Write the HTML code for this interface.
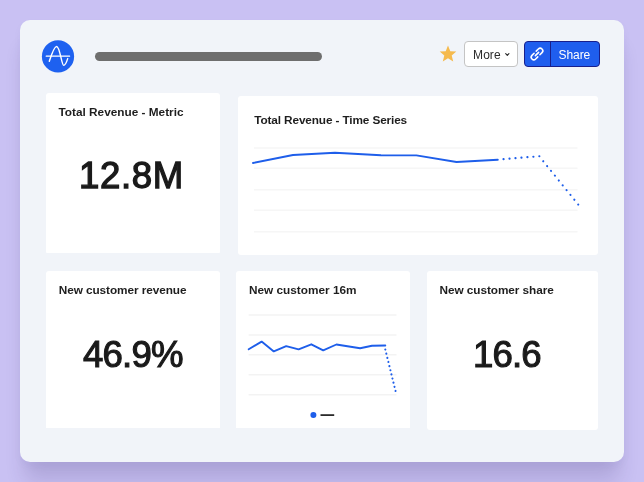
<!DOCTYPE html>
<html lang="en">
<head>
<meta charset="utf-8">
<title>Dashboard</title>
<style>
  html, body { margin: 0; padding: 0; }
  body {
    width: 644px; height: 482px; overflow: hidden; position: relative;
    background: #c9c1f3;
    font-family: "Liberation Sans", sans-serif;
    color: #1e1e1e;
  }
  .panel {
    position: absolute; left: 20px; top: 20px; width: 604px; height: 442px;
    background: #f1f4f9; border-radius: 10px;
    box-shadow: 0 23px 20px -5px rgba(40, 30, 90, 0.165), 0 4px 10px rgba(40,30,90,0.03);
  }
  .logo { position: absolute; left: 41px; top: 39px; width: 34px; height: 34px; }
  .titlebar {
    position: absolute; left: 95px; top: 51.6px; width: 227px; height: 9.2px;
    border-radius: 5px; background: #6e6e6e;
  }
  .star { position: absolute; left: 438.8px; top: 44.6px; width: 18px; height: 17px; }
  .btn-more {
    position: absolute; left: 464px; top: 41px; width: 54px; height: 26px;
    box-sizing: border-box; border: 1px solid #c4c4c4; border-radius: 4px;
    background: #fff; font-size: 12px; line-height: 24px; color: #2b2b2b;
  }
  .btn-more span { position: absolute; left: 8.1px; top: 0.6px; letter-spacing: 0.05px; }
  .btn-more svg { position: absolute; left: 39.7px; top: 11px; }
  .btn-share {
    position: absolute; left: 524px; top: 41px; width: 76px; height: 26px;
    box-sizing: border-box; border: 1px solid #181f8c; border-radius: 4px;
    background: #1f5eee; color: #fff; font-size: 12px; line-height: 24px;
  }
  .btn-share .div { position: absolute; left: 25.4px; top: 0; width: 1px; height: 24px; background: #181f8c; }
  .btn-share span { position: absolute; left: 33.6px; top: 0.6px; letter-spacing: -0.1px; }
  .btn-share svg { position: absolute; left: 4.2px; top: 4.1px; }
  .card { position: absolute; background: #fff; border-radius: 3px 3px 0 0; }
  .card h3 {
    position: absolute; margin: 0; font-size: 11.8px; line-height: 14px; font-weight: bold;
    white-space: nowrap; color: #1e1e1e;
  }
  .big {
    position: absolute; margin: 0; font-size: 36.6px; line-height: 40px; white-space: nowrap;
    color: #1a1a1a; -webkit-text-stroke: 1.3px #1a1a1a;
  }
  svg { display: block; }
</style>
</head>
<body>
<div class="panel"></div>

<svg class="logo" viewBox="41 39 34 34">
  <circle cx="58" cy="56.45" r="16.1" fill="#1e61f0"/>
  <path d="M49.3 61.3 C51.5 54.5 54 46.45 56.6 46.45 C60 46.45 61.5 65.35 63.7 65.35 C65.3 65.35 66.6 62 67.7 58.6" fill="none" stroke="#fff" stroke-width="1.45" stroke-linecap="round"/>
  <path d="M46.2 56.2 H69.6" fill="none" stroke="#fff" stroke-width="1.2" stroke-linecap="round"/>
</svg>
<div class="titlebar"></div>

<svg class="star" viewBox="0 0 18 17">
  <path d="M9 0.6 L11.3 6.2 L17.3 6.6 L12.7 10.5 L14.2 16.4 L9 13.2 L3.8 16.4 L5.3 10.5 L0.7 6.6 L6.7 6.2 Z" fill="#f5ba4e"/>
</svg>
<div class="btn-more"><span>More</span>
  <svg width="6" height="4" viewBox="0 0 6 4"><path d="M0.7 0.7 L2.3 2.3 L3.9 0.7" fill="none" stroke="#2b2b2b" stroke-width="1.15" stroke-linecap="round" stroke-linejoin="round"/></svg>
</div>
<div class="btn-share">
  <svg width="16" height="16" viewBox="-8 -8 16 16"><g transform="rotate(-45)" fill="none" stroke="#fff" stroke-width="1.55" stroke-linecap="round"><path d="M-1.5 -2.6 H-4.5 A2.6 2.6 0 0 0 -4.5 2.6 H-1.5"/><path d="M1.5 -2.6 H4.5 A2.6 2.6 0 0 1 4.5 2.6 H1.5"/><path d="M-2.3 0 H2.3"/></g></svg>
  <div class="div"></div><span>Share</span>
</div>

<!-- Card 1 -->
<div class="card" style="left:46px; top:93px; width:174px; height:159.8px; border-radius:3px 3px 1px 1px;">
  <h3 style="left:12.5px; top:12px;">Total Revenue - Metric</h3>
  <p class="big" id="b1" style="left:33px; top:62.8px; letter-spacing:0.65px;">12.8M</p>
</div>

<!-- Card 2 -->
<div class="card" style="left:238px; top:96px; width:360px; height:159px; border-radius:3px;">
  <h3 style="left:16.3px; top:16.5px; letter-spacing:-0.13px;">Total Revenue - Time Series</h3>
  <svg style="position:absolute; left:0; top:0;" width="360" height="159" viewBox="238 96 360 159">
    <g stroke="#f6f6f6" stroke-width="1.5">
      <path d="M254 148 H577.5 M254 168.2 H577.5 M254 189.7 H577.5 M254 210.2 H577.5 M254 231.7 H577.5"/>
    </g>
    <path d="M253 163 L293 155 L335 152.8 L381 155.3 L416.4 155.4 L456.5 162 L497.8 159.7" fill="none" stroke="#1e5eea" stroke-width="1.9" stroke-linejoin="round" stroke-linecap="round"/>
    <path d="M503.5 159.1 L539.35 156.2" fill="none" stroke="#1e5eea" stroke-width="2.1" stroke-linecap="round" stroke-dasharray="0.1 5.887"/>
    <path d="M543.2 161.2 L578.25 204.55" fill="none" stroke="#1e5eea" stroke-width="2.1" stroke-linecap="round" stroke-dasharray="0.1 6.087"/>
  </svg>
</div>

<!-- Card 3 -->
<div class="card" style="left:46px; top:270.5px; width:174px; height:157.5px;">
  <h3 style="left:12.8px; top:12.5px; letter-spacing:-0.08px;">New customer revenue</h3>
  <p class="big" id="b2" style="left:37px; top:64.1px; letter-spacing:-0.8px; -webkit-text-stroke-width:1.1px;">46.9%</p>
</div>

<!-- Card 4 -->
<div class="card" style="left:236px; top:270.5px; width:174px; height:157.5px;">
  <h3 style="left:13px; top:12.5px;">New customer 16m</h3>
  <svg style="position:absolute; left:0; top:0;" width="174" height="157.5" viewBox="236 270.5 174 157.5">
    <g stroke="#f3f3f3" stroke-width="1.5">
      <path d="M248.6 314.45 H396.5 M248.6 334.4 H396.5 M248.6 354.35 H396.5 M248.6 374.3 H396.5 M248.6 394.25 H396.5"/>
    </g>
    <path d="M248.7 348.8 L261.6 341.1 L273.8 350.9 L286.2 345.6 L298.6 348.8 L311.3 343.8 L323.2 349.8 L336.4 344 L360.1 347.7 L372 345.3 L385.3 345" fill="none" stroke="#1e5eea" stroke-width="1.9" stroke-linejoin="round" stroke-linecap="round"/>
    <path d="M385.3 349 L395.52 390.45" fill="none" stroke="#1e5eea" stroke-width="2.1" stroke-linecap="round" stroke-dasharray="0.1 4.164"/>
    <circle cx="313.4" cy="414.6" r="3" fill="#1e5eea"/>
    <path d="M320.5 414.6 H334.2" stroke="#2b2b2b" stroke-width="1.8"/>
  </svg>
</div>

<!-- Card 5 -->
<div class="card" style="left:426.7px; top:270.5px; width:171.3px; height:159.7px; border-radius:3px;">
  <h3 style="left:12.8px; top:12.5px; letter-spacing:-0.06px;">New customer share</h3>
  <p class="big" id="b3" style="left:46.4px; top:64.1px; letter-spacing:-0.9px; -webkit-text-stroke-width:1.1px;">16.6</p>
</div>
</body>
</html>
